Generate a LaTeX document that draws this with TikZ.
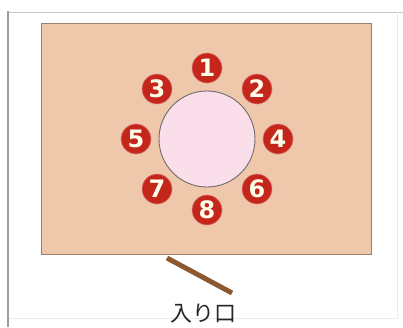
\documentclass[tikz,border=0pt]{standalone}
\usepackage{fontspec}
\newfontfamily\numfont{DejaVu Sans}
\newfontfamily\jpfont{Noto Sans CJK JP}
\usepackage{tikz}
\usetikzlibrary{positioning}

\definecolor{roomfill}{RGB}{239,200,172}
\definecolor{roomline}{RGB}{150,128,112}
\definecolor{tablefill}{RGB}{250,222,233}
\definecolor{seatred}{RGB}{196,38,28}
\definecolor{doorbrown}{RGB}{140,88,48}

\begin{document}
\begin{tikzpicture}[
    x=1pt,y=-1pt,
    room/.style={draw=roomline,fill=roomfill,line width=1pt},
    tablebox/.style={circle,draw=gray!85!black,fill=tablefill,line width=0.9pt,
      minimum size=96pt,inner sep=0pt},
    seat/.style={circle,fill=seatred,draw=seatred!60!white,line width=0.6pt,
      minimum size=30pt,inner sep=0pt,text=white!92!yellow,
      font=\numfont\bfseries\fontsize{24}{24}\selectfont},
    door/.style={draw=doorbrown,line width=5pt},
    label/.style={font=\jpfont\fontsize{22}{22}\selectfont,text=black!85}
  ]
    \useasboundingbox (0,0) rectangle (403,327);
    % frame
    \draw[gray!45,line width=0.8pt] (8,12) -- (403,12);
    \draw[gray!15,line width=0.6pt] (397,12) -- (397,318) -- (8,318);
    \draw[gray!75,line width=1.3pt] (8,11) -- (8,327);
    % room
    \draw[room] (41,23) rectangle (371,254);
    \node[tablebox] (table) at (207,139) {};
    \node[seat] (s1) at (207,68) {1};
    \node[seat] (s2) at (257,89) {2};
    \node[seat] (s3) at (157,89) {3};
    \node[seat] (s4) at (278,139) {4};
    \node[seat] (s5) at (136,139) {5};
    \node[seat] (s6) at (257,189) {6};
    \node[seat] (s7) at (157,189) {7};
    \node[seat] (s8) at (207,210) {8};
    % entrance
    \coordinate (d1) at (167,258);
    \coordinate (d2) at (232,293);
    \draw[door] (d1) -- (d2);
    \node[label] (entry) at (203,314) {入り口};
  \end{tikzpicture}
\end{document}
